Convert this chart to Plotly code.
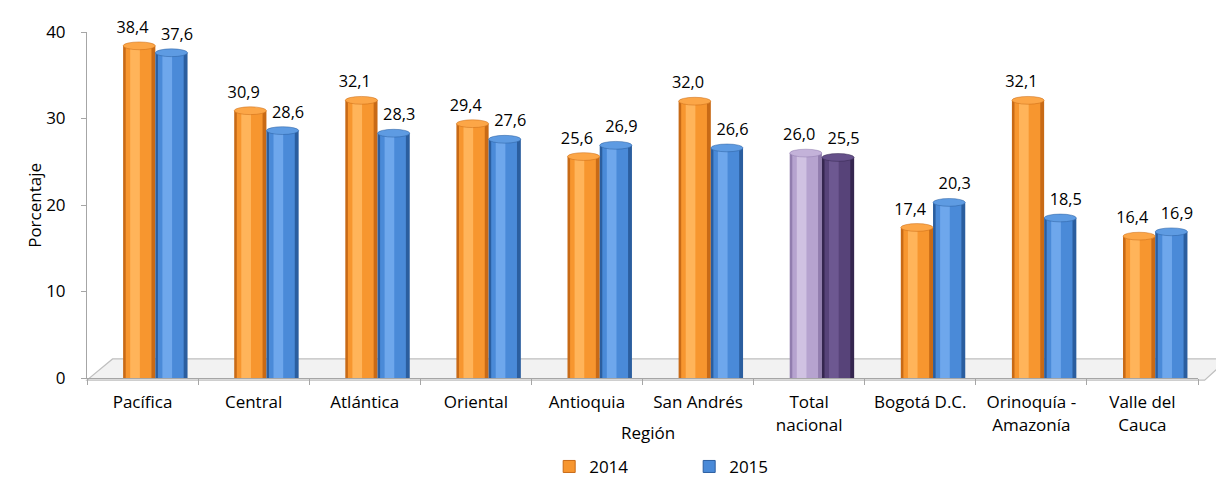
import plotly.graph_objects as go

# ---- data ----
categories = ["Pacífica", "Central", "Atlántica", "Oriental", "Antioquia", "San Andrés",
              "Total<br>nacional", "Bogotá D.C.", "Orinoquía -<br>Amazonía", "Valle del<br>Cauca"]
values_2014 = [38.4, 30.9, 32.1, 29.4, 25.6, 32.0, 26.0, 17.4, 32.1, 16.4]
values_2015 = [37.6, 28.6, 28.3, 27.6, 26.9, 26.6, 25.5, 20.3, 18.5, 16.9]
y_ticks = [0, 10, 20, 30, 40]
series_names = ["2014", "2015"]

# ---- styles ----
FONT = "Open Sans"
FS = 17
special_idx = 6  # Total nacional
pal = {
    "2014": dict(edge="#C86A16", main="#F7962F", light="#FFB45A", top="#FCA647",
                 s_edge="#917DAE", s_main="#B6A3CF", s_light="#D0C2E2", s_top="#C3B2D9"),
    "2015": dict(edge="#2B5E9F", main="#4A8AD8", light="#6EA7EC", top="#5E9BE2",
                 s_edge="#35264F", s_main="#574379", s_light="#6D5891", s_top="#65508A"),
}
W = 0.29
offsets = {"2014": -0.175, "2015": 0.115}
label_shift = {"2014": -0.06, "2015": 0.05}
LABEL_LIFT = 0.6

def colors(key, s, n):
    return [pal[s]["s_" + key] if i == special_idx else pal[s][key] for i in range(n)]

fig = go.Figure()
shapes = []
for s, vals in zip(series_names, [values_2014, values_2015]):
    n = len(vals)
    off = offsets[s]
    fig.add_trace(go.Bar(x=categories, y=vals, width=W, offset=off,
                         marker=dict(color=colors("edge", s, n), line=dict(width=0)),
                         showlegend=False, hoverinfo="skip"))
    fig.add_trace(go.Bar(x=categories, y=vals, width=W * 0.8, offset=off + W * 0.08,
                         marker=dict(color=colors("main", s, n), line=dict(width=0)),
                         showlegend=False, hoverinfo="skip"))
    fig.add_trace(go.Bar(x=categories, y=vals, width=W * 0.3, offset=off + W * 0.22,
                         marker=dict(color=colors("light", s, n), line=dict(width=0)),
                         showlegend=False, hoverinfo="skip"))
    # value labels (transparent carrier, lifted slightly above the cylinder cap)
    fig.add_trace(go.Bar(x=categories, y=vals, base=LABEL_LIFT, width=W,
                         offset=off + label_shift[s], name=s,
                         marker=dict(color="rgba(0,0,0,0)", line=dict(width=0)),
                         text=vals, texttemplate="%{y:.1f}", textposition="outside",
                         textfont=dict(family=FONT, size=FS, color="#000000"),
                         cliponaxis=False, showlegend=False, hoverinfo="skip"))
    fig.add_trace(go.Bar(x=[None], y=[None], name=s,
                         marker=dict(color=pal[s]["main"], line=dict(color=pal[s]["edge"], width=1))))
    tops = colors("top", s, n)
    edges = colors("edge", s, n)
    for i, v in enumerate(vals):
        shapes.append(dict(type="circle", xref="x", yref="y",
                           x0=i + off, x1=i + off + W, y0=v - 0.45, y1=v + 0.45,
                           fillcolor=tops[i], line=dict(color=edges[i], width=0.5),
                           layer="above"))

floor = dict(type="path", xref="paper", yref="paper",
             path="M 0,-0.006 L 1.006,-0.006 L 1.027,0.055 L 0.023,0.055 Z",
             fillcolor="#f2f2f2", line=dict(color="#bfbfbf", width=1.2), layer="below")
shapes.insert(0, floor)

fig.update_layout(
    width=1216, height=485,
    margin=dict(l=87, r=18, t=32, b=107, autoexpand=False),
    paper_bgcolor="white", plot_bgcolor="white",
    barmode="overlay",
    separators=",.",
    font=dict(family=FONT, size=FS, color="#000000"),
    shapes=shapes,
    showlegend=True,
    legend=dict(orientation="h", x=0.416, xanchor="left", y=-0.309,
                yanchor="bottom", entrywidth=95, font=dict(family=FONT, size=FS),
                itemwidth=30, traceorder="normal", bgcolor="rgba(0,0,0,0)"),
    annotations=[
        dict(text="Región", xref="paper", yref="paper", x=0.505, y=-0.197,
             showarrow=False, font=dict(family=FONT, size=FS)),
        dict(text="Porcentaje", xref="paper", yref="paper", x=-0.060, y=0.5,
             textangle=-90, showarrow=False, font=dict(family=FONT, size=FS)),
    ],
)
fig.update_xaxes(type="category", tickson="boundaries", ticks="outside", ticklen=6,
                 tickcolor="#a6a6a6", showline=True, linecolor="#a6a6a6", linewidth=1,
                 showgrid=False, tickfont=dict(family=FONT, size=FS), range=[-0.5, 9.5],
                 automargin=False, ticklabelstandoff=9)
fig.update_yaxes(range=[0, 40], tickvals=y_ticks, ticks="outside", ticklen=5,
                 tickcolor="#a6a6a6", showline=True, linecolor="#a6a6a6", linewidth=1,
                 showgrid=False, zeroline=False, tickfont=dict(family=FONT, size=FS),
                 ticklabelstandoff=12, automargin=False)

fig.write_html("out.html", config={"displayModeBar": False},
               post_script="document.body.style.margin='0';document.body.style.overflow='hidden';")
